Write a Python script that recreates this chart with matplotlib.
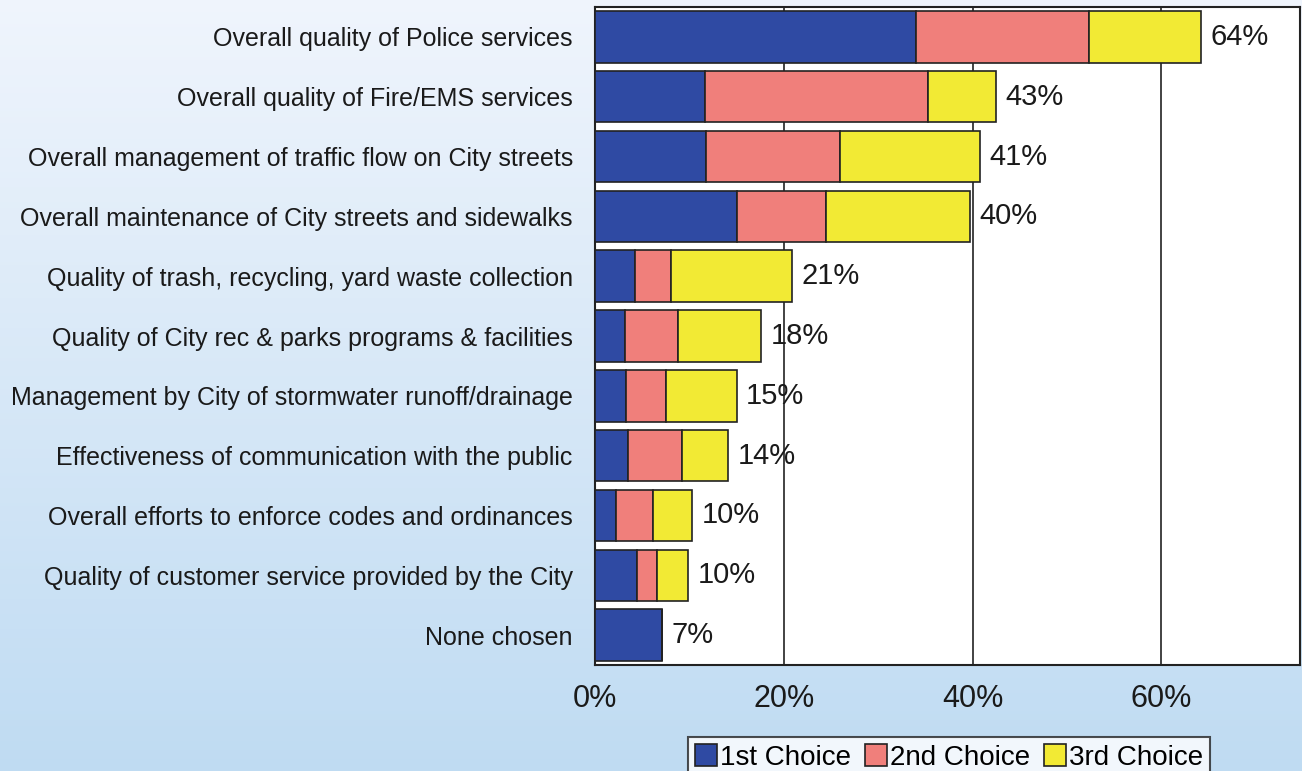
import numpy as np
import matplotlib
matplotlib.use("Agg")
import matplotlib.pyplot as plt
from matplotlib.ticker import PercentFormatter

plt.rcParams['font.family'] = ['Liberation Sans', 'DejaVu Sans']

categories = [
    "Overall quality of Police services",
    "Overall quality of Fire/EMS services",
    "Overall management of traffic flow on City streets",
    "Overall maintenance of City streets and sidewalks",
    "Quality of trash, recycling, yard waste collection",
    "Quality of City rec & parks programs & facilities",
    "Management by City of stormwater runoff/drainage",
    "Effectiveness of communication with the public",
    "Overall efforts to enforce codes and ordinances",
    "Quality of customer service provided by the City",
    "None chosen",
]
first = [34, 11.7, 11.8, 15, 4.2, 3.2, 3.3, 3.5, 2.2, 4.5, 7.1]
second = [18.3, 23.6, 14.2, 9.5, 3.9, 5.6, 4.2, 5.7, 3.9, 2.1, 0]
third = [11.9, 7.2, 14.8, 15.2, 12.8, 8.8, 7.5, 4.9, 4.2, 3.3, 0]
totals = [64, 43, 41, 40, 21, 18, 15, 14, 10, 10, 7]
series_names = ["1st Choice", "2nd Choice", "3rd Choice"]
colors = ["#2f4aa3", "#f07f7b", "#f2ea34"]

fig = plt.figure(figsize=(13.02, 7.71), dpi=100)

# light blue vertical gradient behind everything
bg = fig.add_axes([0, 0, 1, 1], zorder=-1)
grad = np.linspace(0, 1, 256).reshape(-1, 1)
top = np.array([0.94, 0.96, 0.99])
bot = np.array([0.75, 0.86, 0.95])
img = top + (bot - top) * grad[:, :, None]
bg.imshow(img, aspect='auto', extent=[0, 1, 0, 1])
bg.axis('off')

ax = fig.add_axes([595 / 1302, 1 - 665 / 771, (1300 - 595) / 1302, (665 - 7) / 771])
ax.set_facecolor('white')

y = np.arange(len(categories))
left = np.zeros(len(categories))
for vals, name, c in zip([first, second, third], series_names, colors):
    vals = np.array(vals)
    ax.barh(y, vals, left=left, height=0.86, color=c, edgecolor='#222222',
            linewidth=1.2, label=name, zorder=3)
    left += vals

for yi, end, t in zip(y, left, totals):
    ax.text(end + 1.0, yi, f"{t}%", va='center', ha='left', fontsize=21,
            color='#1a1a1a', zorder=4)

ax.set_ylim(len(categories) - 0.5, -0.5)
ax.set_xlim(0, 74.7)
ax.set_yticks(y)
ax.set_yticklabels(categories, fontsize=18, color='#1a1a1a')
ax.set_xticks([0, 20, 40, 60])
ax.xaxis.set_major_formatter(PercentFormatter(decimals=0))
ax.tick_params(axis='x', labelsize=22, length=0, pad=14, colors='#1a1a1a')
ax.tick_params(axis='y', length=0, pad=16)
ax.grid(axis='x', color='#222222', linewidth=1.2, zorder=0)
for s in ax.spines.values():
    s.set_color('#222222')
    s.set_linewidth(1.5)

leg = ax.legend(loc='upper left', bbox_to_anchor=(93 / 705, -0.11), ncol=3,
                fontsize=20, frameon=True, fancybox=False, edgecolor='#222222',
                handlelength=0.8, handleheight=0.8, handletextpad=0.1,
                columnspacing=0.5, borderpad=0.25, borderaxespad=0)
leg.get_frame().set_linewidth(1.5)

fig.savefig("out.png", dpi=100)
